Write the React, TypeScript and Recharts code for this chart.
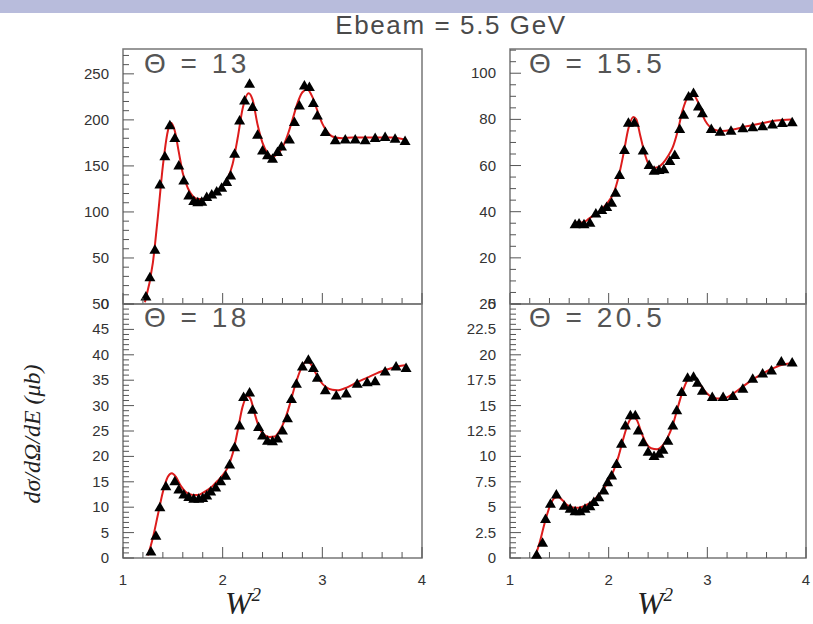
import { ComposedChart, Line, Scatter, XAxis, YAxis, ReferenceArea } from "recharts";

type Pt = { x: number; y: number };

// measured points (W^2, dsigma/dOmega/dE)
const points13: Pt[] = [
  { x: 1.23, y: 8.7 }, { x: 1.27, y: 29.7 }, { x: 1.32, y: 59.4 }, { x: 1.37, y: 130.4 },
  { x: 1.42, y: 161 }, { x: 1.47, y: 194.6 }, { x: 1.52, y: 180.8 }, { x: 1.56, y: 151 },
  { x: 1.61, y: 134.8 }, { x: 1.66, y: 118.5 }, { x: 1.71, y: 112.3 }, { x: 1.75, y: 111 },
  { x: 1.79, y: 111.6 }, { x: 1.84, y: 116.7 }, { x: 1.89, y: 119.6 }, { x: 1.94, y: 122.8 },
  { x: 1.99, y: 126.8 }, { x: 2.04, y: 133 }, { x: 2.08, y: 140.2 }, { x: 2.12, y: 163.8 },
  { x: 2.17, y: 200 }, { x: 2.22, y: 221.7 }, { x: 2.27, y: 239.9 }, { x: 2.3, y: 214.5 },
  { x: 2.35, y: 184.4 }, { x: 2.4, y: 167.4 }, { x: 2.45, y: 162 }, { x: 2.5, y: 158.3 },
  { x: 2.55, y: 165.6 }, { x: 2.59, y: 171.7 }, { x: 2.67, y: 179.3 }, { x: 2.72, y: 198.2 },
  { x: 2.77, y: 216.3 }, { x: 2.82, y: 238 }, { x: 2.87, y: 236.2 }, { x: 2.91, y: 218.8 },
  { x: 2.95, y: 205.4 }, { x: 3.03, y: 187.3 }, { x: 3.13, y: 178.3 }, { x: 3.23, y: 179.3 },
  { x: 3.33, y: 179.3 }, { x: 3.43, y: 178.3 }, { x: 3.53, y: 180.8 }, { x: 3.63, y: 181.9 },
  { x: 3.73, y: 180 }, { x: 3.83, y: 177.5 },
];

const fit13: Pt[] = [
  { x: 1.22, y: 2 }, { x: 1.3, y: 45 }, { x: 1.35, y: 95 }, { x: 1.4, y: 150 },
  { x: 1.45, y: 188 }, { x: 1.48, y: 197 }, { x: 1.52, y: 188 }, { x: 1.56, y: 165 },
  { x: 1.6, y: 142 }, { x: 1.65, y: 126 }, { x: 1.7, y: 117 }, { x: 1.75, y: 114 },
  { x: 1.8, y: 114 }, { x: 1.85, y: 116 }, { x: 1.9, y: 119 }, { x: 1.95, y: 123 },
  { x: 2.0, y: 128 }, { x: 2.05, y: 136 }, { x: 2.1, y: 152 }, { x: 2.15, y: 180 },
  { x: 2.2, y: 212 }, { x: 2.26, y: 229 }, { x: 2.3, y: 222 }, { x: 2.35, y: 195 },
  { x: 2.4, y: 175 }, { x: 2.45, y: 164 }, { x: 2.5, y: 160 }, { x: 2.55, y: 163 },
  { x: 2.6, y: 170 }, { x: 2.65, y: 183 }, { x: 2.7, y: 200 }, { x: 2.75, y: 218 },
  { x: 2.8, y: 230 }, { x: 2.85, y: 233 }, { x: 2.9, y: 225 }, { x: 2.95, y: 210 },
  { x: 3.0, y: 196 }, { x: 3.05, y: 187 }, { x: 3.1, y: 182 }, { x: 3.2, y: 180 },
  { x: 3.3, y: 181 }, { x: 3.5, y: 181 }, { x: 3.7, y: 181 }, { x: 3.85, y: 178 },
];

const points155: Pt[] = [
  { x: 1.66, y: 34.8 }, { x: 1.7, y: 35.1 }, { x: 1.75, y: 34.8 }, { x: 1.81, y: 35.4 },
  { x: 1.87, y: 39.4 }, { x: 1.93, y: 40.9 }, { x: 1.98, y: 42.3 }, { x: 2.03, y: 44.1 },
  { x: 2.07, y: 48.4 }, { x: 2.11, y: 56.1 }, { x: 2.16, y: 67 }, { x: 2.2, y: 78.8 },
  { x: 2.26, y: 78.8 }, { x: 2.35, y: 66.7 }, { x: 2.41, y: 60.4 }, { x: 2.46, y: 58 },
  { x: 2.51, y: 58.3 }, { x: 2.56, y: 58.6 }, { x: 2.62, y: 62.2 }, { x: 2.67, y: 64.8 },
  { x: 2.72, y: 76 }, { x: 2.76, y: 82.2 }, { x: 2.81, y: 90.1 }, { x: 2.86, y: 91.6 },
  { x: 2.91, y: 85.8 }, { x: 2.95, y: 82.9 }, { x: 3.04, y: 76 }, { x: 3.13, y: 74.9 },
  { x: 3.24, y: 75.3 }, { x: 3.36, y: 76.4 }, { x: 3.46, y: 76.8 }, { x: 3.56, y: 77.2 },
  { x: 3.66, y: 78 }, { x: 3.76, y: 78.7 }, { x: 3.86, y: 79 },
];

const fit155: Pt[] = [
  { x: 1.65, y: 35.5 }, { x: 1.7, y: 35.2 }, { x: 1.75, y: 35.5 }, { x: 1.8, y: 37 },
  { x: 1.85, y: 38.5 }, { x: 1.9, y: 40 }, { x: 1.95, y: 42 }, { x: 2.0, y: 44.5 },
  { x: 2.05, y: 48 }, { x: 2.1, y: 55 }, { x: 2.15, y: 65 }, { x: 2.2, y: 76 },
  { x: 2.25, y: 81 }, { x: 2.28, y: 80 }, { x: 2.32, y: 73 }, { x: 2.36, y: 66 },
  { x: 2.4, y: 61 }, { x: 2.45, y: 59 }, { x: 2.5, y: 59.3 }, { x: 2.55, y: 61 },
  { x: 2.6, y: 64 }, { x: 2.65, y: 68 }, { x: 2.7, y: 75 }, { x: 2.75, y: 84 },
  { x: 2.8, y: 89.5 }, { x: 2.85, y: 91 }, { x: 2.9, y: 88 }, { x: 2.95, y: 82 },
  { x: 3.0, y: 78 }, { x: 3.05, y: 76 }, { x: 3.1, y: 75.2 }, { x: 3.15, y: 75 },
  { x: 3.25, y: 75.5 }, { x: 3.4, y: 77 }, { x: 3.55, y: 78.3 }, { x: 3.7, y: 79.5 },
  { x: 3.85, y: 80 },
];

const points18: Pt[] = [
  { x: 1.28, y: 1.4 }, { x: 1.33, y: 4.5 }, { x: 1.37, y: 10.1 }, { x: 1.43, y: 14.2 },
  { x: 1.52, y: 15.2 }, { x: 1.56, y: 13.6 }, { x: 1.61, y: 12.6 }, { x: 1.66, y: 12.1 },
  { x: 1.71, y: 11.75 }, { x: 1.76, y: 11.75 }, { x: 1.8, y: 11.9 }, { x: 1.84, y: 12.4 },
  { x: 1.88, y: 13.2 }, { x: 1.93, y: 14 }, { x: 1.98, y: 15.2 }, { x: 2.03, y: 16.3 },
  { x: 2.07, y: 18.5 }, { x: 2.12, y: 21.9 }, { x: 2.17, y: 26.2 }, { x: 2.21, y: 31.8 },
  { x: 2.27, y: 32.7 }, { x: 2.3, y: 29.3 }, { x: 2.36, y: 25.9 }, { x: 2.4, y: 24.2 },
  { x: 2.45, y: 23.2 }, { x: 2.5, y: 23.1 }, { x: 2.55, y: 23.6 }, { x: 2.6, y: 25.2 },
  { x: 2.65, y: 27.6 }, { x: 2.69, y: 31.4 }, { x: 2.74, y: 34.4 }, { x: 2.8, y: 37.8 },
  { x: 2.86, y: 39.1 }, { x: 2.91, y: 37.5 }, { x: 2.95, y: 35.6 }, { x: 3.03, y: 33.1 },
  { x: 3.14, y: 32.1 }, { x: 3.24, y: 32.5 }, { x: 3.35, y: 34.4 }, { x: 3.45, y: 34.7 },
  { x: 3.53, y: 34.9 }, { x: 3.63, y: 36.8 }, { x: 3.74, y: 37.8 }, { x: 3.84, y: 37.5 },
];

const fit18: Pt[] = [
  { x: 1.25, y: 0.5 }, { x: 1.3, y: 4 }, { x: 1.35, y: 8.5 }, { x: 1.4, y: 13 },
  { x: 1.45, y: 16 }, { x: 1.49, y: 16.7 }, { x: 1.53, y: 16 }, { x: 1.58, y: 14.2 },
  { x: 1.63, y: 13 }, { x: 1.7, y: 12.4 }, { x: 1.75, y: 12.4 }, { x: 1.8, y: 12.8 },
  { x: 1.85, y: 13.4 }, { x: 1.9, y: 14.2 }, { x: 1.95, y: 15.2 }, { x: 2.0, y: 16.3 },
  { x: 2.05, y: 17.8 }, { x: 2.1, y: 20.5 }, { x: 2.15, y: 25 }, { x: 2.2, y: 29.8 },
  { x: 2.25, y: 31.9 }, { x: 2.28, y: 31.3 }, { x: 2.32, y: 28.5 }, { x: 2.37, y: 25.5 },
  { x: 2.42, y: 24.2 }, { x: 2.47, y: 23.8 }, { x: 2.52, y: 23.9 }, { x: 2.57, y: 25 },
  { x: 2.62, y: 27 }, { x: 2.67, y: 30 }, { x: 2.72, y: 33.5 }, { x: 2.78, y: 37 },
  { x: 2.84, y: 38.7 }, { x: 2.88, y: 38.3 }, { x: 2.93, y: 36.5 }, { x: 2.98, y: 34.8 },
  { x: 3.04, y: 33.6 }, { x: 3.1, y: 33.1 }, { x: 3.15, y: 33 }, { x: 3.25, y: 33.6 },
  { x: 3.35, y: 34.6 }, { x: 3.45, y: 35.5 }, { x: 3.55, y: 36.4 }, { x: 3.65, y: 37.1 },
  { x: 3.75, y: 37.7 }, { x: 3.85, y: 38 },
];

const points205: Pt[] = [
  { x: 1.27, y: 0.36 }, { x: 1.33, y: 1.55 }, { x: 1.36, y: 3.9 }, { x: 1.41, y: 5.38 },
  { x: 1.47, y: 6.3 }, { x: 1.55, y: 5.2 }, { x: 1.61, y: 4.9 }, { x: 1.66, y: 4.66 },
  { x: 1.71, y: 4.66 }, { x: 1.76, y: 4.9 }, { x: 1.81, y: 5.15 }, { x: 1.85, y: 5.55 },
  { x: 1.9, y: 6.04 }, { x: 1.95, y: 6.7 }, { x: 1.99, y: 7.5 }, { x: 2.03, y: 8.17 },
  { x: 2.08, y: 9.3 }, { x: 2.13, y: 11.3 }, { x: 2.17, y: 13.1 }, { x: 2.22, y: 14.1 },
  { x: 2.27, y: 14.1 }, { x: 2.3, y: 12.6 }, { x: 2.35, y: 11.45 }, { x: 2.4, y: 10.5 },
  { x: 2.46, y: 10.1 }, { x: 2.51, y: 10.3 }, { x: 2.55, y: 10.7 }, { x: 2.6, y: 11.6 },
  { x: 2.65, y: 13.1 }, { x: 2.69, y: 14.6 }, { x: 2.74, y: 16.4 }, { x: 2.8, y: 17.8 },
  { x: 2.86, y: 17.9 }, { x: 2.9, y: 17.3 }, { x: 2.95, y: 16.5 }, { x: 3.05, y: 15.9 },
  { x: 3.16, y: 15.9 }, { x: 3.26, y: 16 }, { x: 3.36, y: 16.7 }, { x: 3.46, y: 17.7 },
  { x: 3.56, y: 18.2 }, { x: 3.65, y: 18.5 }, { x: 3.75, y: 19.4 }, { x: 3.86, y: 19.3 },
];

const fit205: Pt[] = [
  { x: 1.25, y: 0 }, { x: 1.3, y: 1.5 }, { x: 1.35, y: 3.4 }, { x: 1.4, y: 5 },
  { x: 1.45, y: 5.9 }, { x: 1.49, y: 6 }, { x: 1.53, y: 5.7 }, { x: 1.58, y: 5.2 },
  { x: 1.65, y: 4.95 }, { x: 1.7, y: 4.95 }, { x: 1.75, y: 5.1 }, { x: 1.8, y: 5.35 },
  { x: 1.85, y: 5.7 }, { x: 1.9, y: 6.2 }, { x: 1.95, y: 6.8 }, { x: 2.0, y: 7.6 },
  { x: 2.05, y: 8.6 }, { x: 2.1, y: 10 }, { x: 2.15, y: 11.8 }, { x: 2.2, y: 13.3 },
  { x: 2.25, y: 13.9 }, { x: 2.29, y: 13.5 }, { x: 2.33, y: 12.4 }, { x: 2.38, y: 11.3 },
  { x: 2.43, y: 10.8 }, { x: 2.49, y: 10.7 }, { x: 2.55, y: 11.1 }, { x: 2.6, y: 11.9 },
  { x: 2.65, y: 13.1 }, { x: 2.7, y: 14.8 }, { x: 2.75, y: 16.4 }, { x: 2.8, y: 17.5 },
  { x: 2.86, y: 17.8 }, { x: 2.91, y: 17.3 }, { x: 2.96, y: 16.6 }, { x: 3.02, y: 16 },
  { x: 3.1, y: 15.7 }, { x: 3.16, y: 15.7 }, { x: 3.25, y: 16.1 }, { x: 3.35, y: 16.8 },
  { x: 3.45, y: 17.5 }, { x: 3.55, y: 18.1 }, { x: 3.65, y: 18.6 }, { x: 3.75, y: 19 },
  { x: 3.86, y: 19.2 },
];

const thetas = ["13", "15.5", "18", "20.5"];

const FONT = "'Liberation Sans', Arial, sans-serif";
const SERIF = "'Liberation Serif', 'Times New Roman', serif";
const TICK = "#555";
const M = 14; // gap between frame and tick labels

// tick positions along an axis (major + minor)
function steps(from: number, to: number, step: number) {
  const out: number[] = [];
  const n = Math.round((to - from) / step);
  for (let i = 0; i <= n; i++) out.push(+(from + i * step).toFixed(4));
  return out;
}
const isMult = (v: number, s: number) => Math.abs(v / s - Math.round(v / s)) < 1e-6;

const makeYTick = (major: number) => (props: any) => {
  const { x, y, payload } = props;
  const v = payload.value as number;
  const big = isMult(v, major);
  const x0 = x + M;
  return (
    <g>
      <line x1={x0} x2={x0 + (big ? 11 : 6)} y1={y} y2={y} stroke={TICK} />
      {big && (
        <text x={x} y={y + 5} textAnchor="end" fontSize={15} fontFamily={FONT} fill="#333">
          {String(+v.toFixed(1))}
        </text>
      )}
    </g>
  );
};

const makeXTick = (showLabels: boolean) => (props: any) => {
  const { x, y, payload } = props;
  const v = payload.value as number;
  const big = isMult(v, 1);
  return (
    <g>
      <line x1={x} x2={x} y1={y} y2={y - (big ? 11 : 6)} stroke={TICK} />
      {big && showLabels && (
        <text x={x} y={y + 27} textAnchor="middle" fontSize={15} fontFamily={FONT} fill="#333">
          {v}
        </text>
      )}
    </g>
  );
};

const Triangle = (props: any) => {
  const { cx, cy } = props;
  if (cx == null || cy == null) return <g />;
  return <polygon points={`${cx - 5.5},${cy + 4.5} ${cx + 5.5},${cy + 4.5} ${cx},${cy - 5}`} fill="#000" />;
};

type PanelProps = {
  points: Pt[];
  fit: Pt[];
  yMax: number;
  yMajor: number;
  yMinor: number;
  left: number;
  top: number;
  w: number;
  h: number;
  xLabels: boolean;
};

function Panel({ points, fit, yMax, yMajor, yMinor, left, top, w, h, xLabels }: PanelProps) {
  const yTicks = steps(0, Math.floor(yMax / yMinor) * yMinor, yMinor);
  return (
    <div style={{ position: "absolute", left: left - 60, top: top - 10 }}>
      <ComposedChart width={w + 70} height={h + 50} margin={{ top: 10, right: 10, bottom: 0, left: 0 }}>
        <XAxis
          type="number"
          dataKey="x"
          domain={[1, 4]}
          ticks={steps(1, 4, 0.2)}
          interval={0}
          height={40}
          axisLine={false}
          tickLine={false}
          tickSize={0}
          tickMargin={0}
          tick={makeXTick(xLabels)}
        />
        <YAxis
          type="number"
          dataKey="y"
          domain={[0, yMax]}
          ticks={yTicks}
          interval={0}
          width={60}
          axisLine={false}
          tickLine={false}
          tickSize={0}
          tickMargin={M}
          tick={makeYTick(yMajor)}
        />
        <ReferenceArea x1={1} x2={4} y1={0} y2={yMax} fill="none" stroke="#777" strokeWidth={1.5} ifOverflow="visible" />
        <Scatter data={points} shape={Triangle} isAnimationActive={false} />
        <Line data={fit} dataKey="y" type="monotone" stroke="#dd1c1c" strokeWidth={2} dot={false} isAnimationActive={false} />
      </ComposedChart>
    </div>
  );
}

export default function App() {
  const thetaStyle = { fontSize: 28, fontFamily: FONT, fill: "#555", letterSpacing: 3.5 };
  return (
    <div style={{ position: "absolute", left: 0, top: 0, width: 813, height: 624, background: "#fff", overflow: "hidden" }}>
      <div style={{ position: "absolute", left: 0, top: 0, width: 813, height: 13, background: "#b8bcdc" }} />
      <Panel points={points13} fit={fit13} yMax={277} yMajor={50} yMinor={10} left={123} top={49} w={299} h={255} xLabels={false} />
      <Panel points={points155} fit={fit155} yMax={110.5} yMajor={20} yMinor={5} left={510} top={49} w={296} h={255} xLabels={false} />
      <Panel points={points18} fit={fit18} yMax={50} yMajor={5} yMinor={1} left={123} top={304} w={299} h={254} xLabels={true} />
      <Panel points={points205} fit={fit205} yMax={25} yMajor={2.5} yMinor={0.5} left={510} top={304} w={296} h={254} xLabels={true} />
      <svg width={813} height={624} style={{ position: "absolute", left: 0, top: 0, pointerEvents: "none" }}>
        <text x={451} y={34} textAnchor="middle" fontSize={26} fontFamily={FONT} fill="#4a4a4a" letterSpacing={1.6}>
          Ebeam = 5.5 GeV
        </text>
        <text x={144} y={73} {...thetaStyle}>Θ = {thetas[0]}</text>
        <text x={529} y={73} {...thetaStyle}>Θ = {thetas[1]}</text>
        <text x={144} y={327} {...thetaStyle}>Θ = {thetas[2]}</text>
        <text x={529} y={327} {...thetaStyle}>Θ = {thetas[3]}</text>
        <text transform="translate(40,434) rotate(-90)" textAnchor="middle" fontSize={24} fontFamily={SERIF} fontStyle="italic" fill="#222">
          dσ/dΩ/dE (μb)
        </text>
        <text x={243} y={614} textAnchor="middle" fontSize={32} fontFamily={SERIF} fontStyle="italic" fill="#222">
          W<tspan dy={-13} fontSize={19}>2</tspan>
        </text>
        <text x={655} y={614} textAnchor="middle" fontSize={32} fontFamily={SERIF} fontStyle="italic" fill="#222">
          W<tspan dy={-13} fontSize={19}>2</tspan>
        </text>
      </svg>
    </div>
  );
}
